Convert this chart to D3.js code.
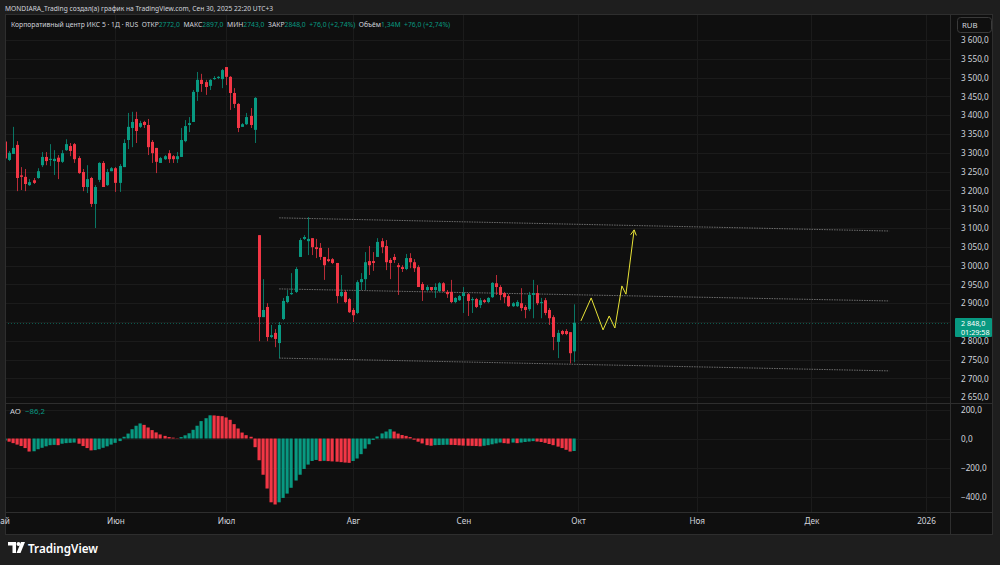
<!DOCTYPE html>
<html>
<head>
<meta charset="utf-8">
<script src="https://cdn.jsdelivr.net/npm/d3@7"></script>
<style>
  body { margin: 0; background: #1e1e1e; }
  text { font-family: "Noto Sans", "DejaVu Sans", sans-serif; }
</style>
</head>
<body>
<div id="viz"></div>
<script>
// daily candles (bar index 0 = first visible bar)
var opens  = [3330,3281,3297,3321,3240,3236,3214,3227,3233,3267,3289,3281,3278,3287,3276,3307,3318,3323,3286,3249,
              3209,3233,3164,3228,3273,3214,3251,3259,3220,3262,3334,3366,3390,3369,3382,3374,3329,3313,3273,3283,
              3299,3291,3283,3289,3331,3374,3382,3462,3494,3488,3478,3496,3499,3496,3528,3502,3459,3430,3369,3376,
              3398,3361,3081,2863,2890,2810,2821,2794,2858,2903,2924,2930,3023,3071,3065,3073,3049,3047,3023,3017,
              3017,3007,2919,2930,2911,2882,2874,2956,2964,3012,3012,3023,3065,3052,3015,3023,3001,2996,2991,3020,
              3009,2996,2951,2935,2943,2935,2932,2953,2930,2930,2903,2908,2919,2924,2908,2911,2895,2908,2903,2916,
              2953,2943,2927,2919,2892,2892,2900,2890,2884,2922,2927,2900,2908,2882,2863,2797,2826,2826,2823,2772];
var highs  = [3340,3305,3369,3331,3262,3257,3230,3233,3259,3302,3302,3323,3307,3294,3307,3336,3326,3326,3291,3257,
              3267,3236,3214,3275,3278,3257,3262,3262,3270,3336,3406,3409,3409,3385,3385,3390,3334,3313,3289,3294,
              3307,3294,3302,3366,3387,3395,3467,3515,3510,3494,3496,3504,3504,3523,3528,3504,3472,3432,3379,3406,
              3419,3448,3081,2964,2900,2842,2831,2850,2914,2935,2980,2996,3073,3081,3129,3073,3071,3060,3023,3047,
              3020,3007,2975,2935,2914,2887,2961,2980,3036,3052,3036,3073,3073,3068,3020,3031,3007,3001,3031,3033,
              3017,3001,2956,2948,2943,2953,2956,2956,2935,2962,2916,2922,2943,2927,2916,2914,2914,2911,2916,2956,
              2975,2948,2930,2924,2903,2908,2940,2895,2930,2962,2948,2914,2914,2887,2868,2829,2829,2831,2823,2897];
var lows   = [3280,3278,3297,3198,3201,3198,3212,3217,3231,3262,3267,3265,3241,3230,3273,3305,3291,3273,3244,3198,
              3193,3156,3100,3222,3209,3212,3251,3196,3196,3262,3310,3315,3326,3366,3366,3294,3273,3246,3273,3281,
              3273,3273,3273,3289,3328,3355,3382,3438,3462,3454,3467,3494,3496,3472,3480,3414,3419,3355,3369,3374,
              3366,3326,2799,2863,2799,2807,2783,2754,2855,2900,2922,2927,3023,3068,3028,3028,3020,3015,2962,3009,
              3004,2900,2916,2900,2874,2850,2871,2935,2935,2975,2986,3023,3033,2988,2964,3007,2922,2983,2988,2993,
              2983,2943,2906,2932,2932,2914,2930,2930,2914,2900,2900,2906,2874,2866,2874,2887,2887,2900,2900,2914,
              2922,2908,2900,2890,2890,2890,2879,2860,2879,2860,2895,2860,2868,2842,2775,2754,2815,2815,2740,2743];
var closes = [3285,3300,3313,3233,3236,3217,3222,3220,3251,3289,3278,3284,3284,3276,3299,3323,3305,3283,3246,3209,
              3230,3164,3209,3273,3209,3249,3259,3220,3265,3326,3369,3382,3358,3379,3374,3315,3299,3276,3286,3291,
              3283,3283,3291,3334,3371,3379,3462,3494,3483,3475,3494,3499,3502,3520,3502,3459,3430,3366,3376,3395,
              3374,3446,2863,2882,2810,2815,2805,2842,2906,2919,2927,2991,3068,3076,3071,3049,3044,3023,3001,3012,
              3007,2919,2930,2903,2876,2868,2956,2964,3009,3001,3007,3063,3049,3009,3007,3015,2996,2991,3020,3009,
              2993,2943,2935,2943,2935,2943,2953,2932,2924,2903,2914,2919,2927,2906,2911,2890,2908,2903,2914,2954,
              2943,2922,2916,2892,2900,2903,2887,2882,2922,2927,2900,2903,2874,2860,2810,2821,2818,2818,2767,2848];

// Awesome Oscillator histogram, one value per bar
var aoValues = [-14,-22,-32,-42,-52,-66,-90,-88,-74,-64,-54,-46,-44,-46,-36,-32,-30,-28,-36,-52,
                -66,-82,-80,-74,-64,-54,-42,-30,-18,12,34,64,88,104,94,76,58,42,28,18,
                10,6,2,10,22,36,60,88,120,140,160,159,156,154,145,129,99,69,41,23,
                12,-60,-150,-250,-345,-440,-455,-440,-410,-380,-340,-290,-250,-210,-180,-155,-148,-156,-154,-156,
                -158,-160,-163,-166,-168,-155,-138,-108,-70,-40,-10,14,35,48,64,48,34,24,18,10,
                -8,-22,-34,-46,-50,-46,-45,-44,-43,-44,-45,-47,-49,-50,-51,-52,-54,-50,-46,-40,
                -34,-28,-32,-35,-28,-32,-28,-24,-21,-18,-21,-24,-30,-38,-46,-56,-66,-78,-90,-86.2];

var priceTicks = [3600,3550,3500,3450,3400,3350,3300,3250,3200,3150,3100,3050,3000,2950,2900,2850,2800,2750,2700,2650];
var priceTickLabels = ["3 600,0","3 550,0","3 500,0","3 450,0","3 400,0","3 350,0","3 300,0","3 250,0","3 200,0","3 150,0",
                       "3 100,0","3 050,0","3 000,0","2 950,0","2 900,0","","2 800,0","2 750,0","2 700,0","2 650,0"];
var aoTicks = [200, 0, -200, -400];
var aoTickLabels = ["200,0", "0,0", "\u2212200,0", "\u2212400,0"];

var monthNames = ["Май","Июн","Июл","Авг","Сен","Окт","Ноя","Дек","2026"];
var monthIndex = [-1, 27, 54, 85, 112, 140, 169, 197, 225];

// legend line pieces: text, colour
var legendParts = [
  ["Корпоративный центр ИКС 5 · 1Д · RUS  ", "#d1d4dc"], ["ОТКР", "#d1d4dc"], ["2772,0", "#089981"],
  ["  МАКС", "#d1d4dc"], ["2897,0", "#089981"], ["  МИН", "#d1d4dc"], ["2743,0", "#089981"],
  ["  ЗАКР", "#d1d4dc"], ["2848,0", "#089981"], ["  +76,0 (+2,74%)", "#089981"],
  ["  Объём", "#d1d4dc"], ["1,34M", "#089981"], ["  +76,0 (+2,74%)", "#089981"]
];

// drawn trend channel: [bar index, price] for start and end
var channelLines = [
  [[67, 3127], [216, 3092]],
  [[67, 2938], [216, 2906]],
  [[67, 2754], [216, 2720]]
];
// yellow forecast path
var forecastIdx   = [140.7, 143.2, 146.1, 147.6, 149.0, 150.7, 151.7, 153.7];
var forecastPrice = [2853, 2914, 2829, 2866, 2834, 2946, 2924, 3095];

var lastPrice = 2848;

var W = 1000, H = 565;
var green = "#089981", red = "#f23645";
var paneLeft = 5, paneRight = 950, mainTop = 14, mainBottom = 403, aoBottom = 512;

var svg = d3.select("#viz").append("svg")
    .attr("width", W).attr("height", H)
    .style("display", "block");

// shrink or grow a text's font so that its natural width is w
function fitWidth(sel, w) {
  sel.each(function() {
    var t = d3.select(this);
    var fs = +t.attr("font-size");
    var cur = this.getComputedTextLength();
    if (cur > 0) t.attr("font-size", (fs * w / cur).toFixed(2));
  });
}

svg.append("rect").attr("width", W).attr("height", H).attr("fill", "#1e1e1e");
svg.append("rect").attr("x", paneLeft).attr("y", mainTop)
    .attr("width", 993 - paneLeft).attr("height", 535 - mainTop)
    .attr("fill", "#0f0f0f");

var x = d3.scaleLinear().domain([0, 1]).range([4.9, 4.9 + 4.094]);
var y = d3.scaleLinear().domain([2650, 3600]).range([397.2, 40]);
var yAo = d3.scaleLinear().domain([-400, 200]).range([496.5, 409.5]);

svg.append("clipPath").attr("id", "clipMain")
  .append("rect").attr("x", paneLeft + 1).attr("y", mainTop).attr("width", paneRight - paneLeft - 1).attr("height", mainBottom - mainTop);
svg.append("clipPath").attr("id", "clipAo")
  .append("rect").attr("x", paneLeft + 1).attr("y", mainBottom + 1).attr("width", paneRight - paneLeft - 1).attr("height", aoBottom - mainBottom - 1);

// grid
var grid = svg.append("g");
grid.selectAll(".hg").data(priceTicks).enter().append("line")
    .attr("x1", paneLeft).attr("x2", paneRight)
    .attr("y1", function(d){ return Math.round(y(d)) + 0.5; })
    .attr("y2", function(d){ return Math.round(y(d)) + 0.5; })
    .attr("stroke", "#1b1b1b");
grid.selectAll(".ag").data(aoTicks).enter().append("line")
    .attr("x1", paneLeft).attr("x2", paneRight)
    .attr("y1", function(d){ return Math.round(yAo(d)) + 0.5; })
    .attr("y2", function(d){ return Math.round(yAo(d)) + 0.5; })
    .attr("stroke", "#1b1b1b");
grid.selectAll(".vg").data(monthIndex.slice(1)).enter().append("line")
    .attr("x1", function(d){ return Math.round(x(d)) + 0.5; })
    .attr("x2", function(d){ return Math.round(x(d)) + 0.5; })
    .attr("y1", mainTop).attr("y2", aoBottom)
    .attr("stroke", "#1b1b1b");

// header texts
svg.append("text").attr("x", 5).attr("y", 10.5)
    .attr("font-size", 7.8).attr("fill", "#d1d4dc")
    .text("MONDIARA_Trading создал(а) график на TradingView.com, Сен 30, 2025 22:20 UTC+3")
    .call(fitWidth, 268);

var hdr = svg.append("text").attr("x", 11).attr("y", 27).attr("font-size", 7.8)
    .attr("fill", "#d1d4dc").style("white-space", "pre");
hdr.selectAll("tspan").data(legendParts).enter().append("tspan")
    .attr("fill", function(d){ return d[1]; })
    .text(function(d){ return d[0]; });
hdr.call(fitWidth, 439);

// channel lines
var chan = svg.append("g").attr("clip-path", "url(#clipMain)");
chan.selectAll("line").data(channelLines).enter().append("line")
    .attr("x1", function(d){ return x(d[0][0]); }).attr("y1", function(d){ return y(d[0][1]); })
    .attr("x2", function(d){ return x(d[1][0]); }).attr("y2", function(d){ return y(d[1][1]); })
    .attr("stroke", "#6e6e6e").attr("stroke-width", 1).attr("stroke-dasharray", "1.5,1");

// last price line
svg.append("line").attr("x1", paneLeft).attr("x2", paneRight)
    .attr("y1", Math.round(y(lastPrice)) + 0.5).attr("y2", Math.round(y(lastPrice)) + 0.5)
    .attr("stroke", green).attr("stroke-opacity", 0.55).attr("stroke-dasharray", "1,2");

// candles
var idx = d3.range(opens.length);
var cg = svg.append("g").attr("clip-path", "url(#clipMain)");
cg.selectAll(".wick").data(idx).enter().append("line")
    .attr("x1", function(i){ return Math.round(x(i)) + 0.5; })
    .attr("x2", function(i){ return Math.round(x(i)) + 0.5; })
    .attr("y1", function(i){ return y(highs[i]); })
    .attr("y2", function(i){ return y(lows[i]); })
    .attr("stroke", function(i){ return closes[i] >= opens[i] ? green : red; })
    .attr("stroke-opacity", 0.75);
cg.selectAll(".body").data(idx).enter().append("rect")
    .attr("x", function(i){ return Math.round(x(i)) - 1; })
    .attr("width", 3)
    .attr("y", function(i){ return y(Math.max(opens[i], closes[i])); })
    .attr("height", function(i){ return Math.max(1, Math.abs(y(opens[i]) - y(closes[i]))); })
    .attr("fill", function(i){ return closes[i] >= opens[i] ? green : red; });

// forecast path
var fpts = forecastIdx.map(function(d, k){ return [x(d), y(forecastPrice[k])]; });
svg.append("path").attr("d", d3.line()(fpts))
    .attr("fill", "none").attr("stroke", "#e8e337").attr("stroke-width", 1);
var last = fpts[fpts.length - 1], prev = fpts[fpts.length - 2];
var ang = Math.atan2(last[1] - prev[1], last[0] - prev[0]);
var ah = [[last[0] - 6 * Math.cos(ang - 0.5), last[1] - 6 * Math.sin(ang - 0.5)], last,
          [last[0] - 6 * Math.cos(ang + 0.5), last[1] - 6 * Math.sin(ang + 0.5)]];
svg.append("path").attr("d", d3.line()(ah))
    .attr("fill", "none").attr("stroke", "#e8e337").attr("stroke-width", 1);

// AO histogram
var ag = svg.append("g").attr("clip-path", "url(#clipAo)");
ag.selectAll("rect").data(idx).enter().append("rect")
    .attr("x", function(i){ return Math.round(x(i)) - 1.5; })
    .attr("width", 3.2)
    .attr("y", function(i){ return yAo(Math.max(0, aoValues[i])); })
    .attr("height", function(i){ return Math.abs(yAo(aoValues[i]) - yAo(0)); })
    .attr("fill", function(i){ return (i === 0 || aoValues[i] >= aoValues[i - 1]) ? green : red; });

svg.append("text").attr("x", 10).attr("y", 414).attr("font-size", 7.8).attr("fill", "#d1d4dc").text("AO");
svg.append("text").attr("x", 25).attr("y", 414).attr("font-size", 7.8).attr("fill", green).text("\u221286,2");

// pane separators and frame
svg.append("line").attr("x1", paneLeft).attr("x2", 993).attr("y1", mainBottom + 0.5).attr("y2", mainBottom + 0.5).attr("stroke", "#2e2e2e");
svg.append("line").attr("x1", paneLeft).attr("x2", 993).attr("y1", aoBottom + 0.5).attr("y2", aoBottom + 0.5).attr("stroke", "#2e2e2e");
svg.append("line").attr("x1", paneRight + 0.5).attr("x2", paneRight + 0.5).attr("y1", mainTop).attr("y2", 535).attr("stroke", "#2e2e2e");
svg.append("rect").attr("x", paneLeft + 0.5).attr("y", mainTop + 0.5).attr("width", 993 - paneLeft - 1).attr("height", 535 - mainTop - 1)
    .attr("fill", "none").attr("stroke", "#2e2e2e");

// price axis
var pa = svg.append("g").attr("transform", "translate(" + paneRight + ",0)");
pa.call(d3.axisRight(y).tickValues(priceTicks).tickSize(0).tickPadding(11)
    .tickFormat(function(d, k){ return priceTickLabels[k]; }));
pa.select(".domain").remove();
pa.selectAll("text").attr("fill", "#d1d4dc").attr("font-size", 8.2).attr("font-family", "Noto Sans, DejaVu Sans, sans-serif");

var aa = svg.append("g").attr("transform", "translate(" + paneRight + ",0)");
aa.call(d3.axisRight(yAo).tickValues(aoTicks).tickSize(0).tickPadding(11)
    .tickFormat(function(d, k){ return aoTickLabels[k]; }));
aa.select(".domain").remove();
aa.selectAll("text").attr("fill", "#d1d4dc").attr("font-size", 8.2).attr("font-family", "Noto Sans, DejaVu Sans, sans-serif");

// time axis
var ta = svg.append("g").attr("transform", "translate(0," + (aoBottom) + ")");
ta.call(d3.axisBottom(x).tickValues(monthIndex).tickSize(0).tickPadding(6)
    .tickFormat(function(d, k){ return monthNames[k]; }));
ta.select(".domain").remove();
ta.selectAll("text").attr("fill", "#d1d4dc").attr("font-size", 8.2).attr("font-family", "Noto Sans, DejaVu Sans, sans-serif");

// RUB button
svg.append("rect").attr("x", 957.5).attr("y", 17.5).attr("width", 34).attr("height", 15).attr("rx", 3)
    .attr("fill", "#0f0f0f").attr("stroke", "#3a3a3a");
svg.append("text").attr("x", 962).attr("y", 28).attr("font-size", 7.8).attr("fill", "#d1d4dc").text("RUB");

// last price label
svg.append("rect").attr("x", 955).attr("y", 318).attr("width", 37).attr("height", 19).attr("rx", 1).attr("fill", green);
svg.append("text").attr("x", 961).attr("y", 326).attr("font-size", 7.2).attr("fill", "#ffffff").text("2 848,0");
svg.append("text").attr("x", 961).attr("y", 334.8).attr("font-size", 7.2).attr("fill", "#ffffff").text("01:29:58");

// TradingView logo
var logo = svg.append("g").attr("transform", "translate(8,542)").attr("fill", "#ffffff");
logo.append("path").attr("d", "M0,0 H8 V11 H4.5 V3.5 H0 Z");
logo.append("circle").attr("cx", 10.5).attr("cy", 2).attr("r", 2);
logo.append("path").attr("d", "M13,0 H17 L12.5,11 H8.5 Z");
svg.append("text").attr("x", 28).attr("y", 553).attr("font-size", 13).attr("font-weight", 600)
    .attr("fill", "#ffffff").text("TradingView")
    .call(fitWidth, 70);
</script>
</body>
</html>
